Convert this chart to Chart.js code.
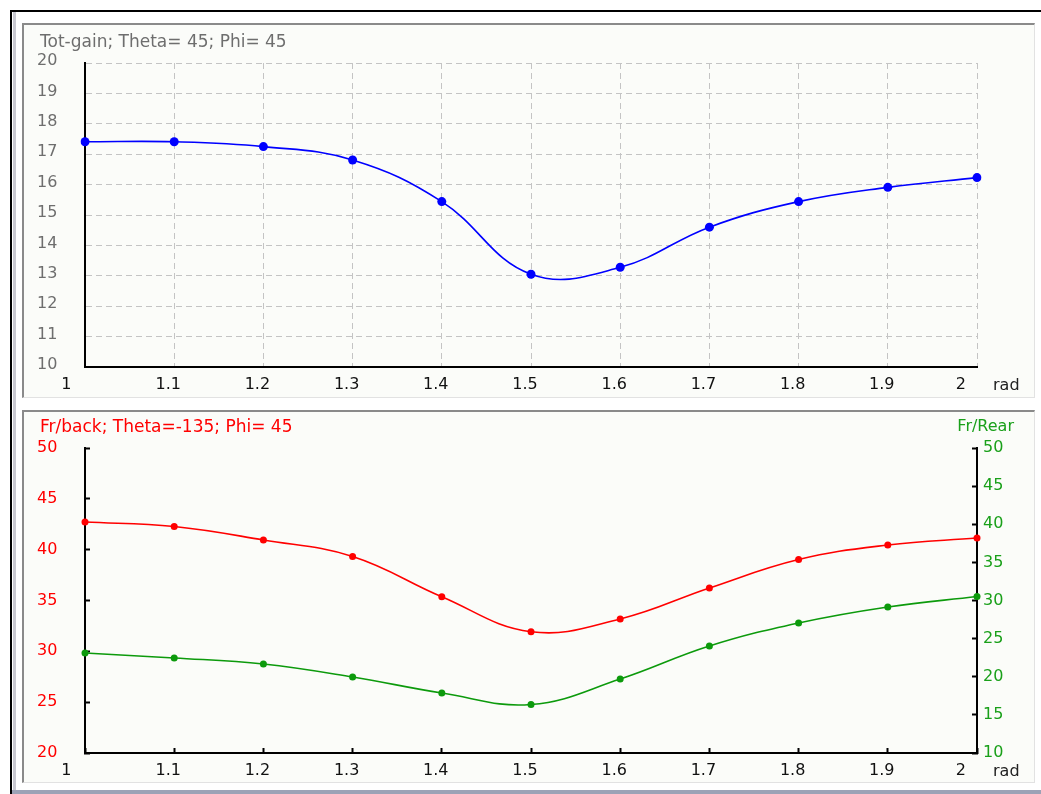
<!DOCTYPE html>
<html>
<head>
<meta charset="utf-8">
<script src="https://cdn.jsdelivr.net/npm/chart.js@4/dist/chart.umd.min.js"></script>
<style>
  html, body { margin: 0; padding: 0; background: #fff; width: 1041px; height: 794px; overflow: hidden;
               font-family: "DejaVu Sans", sans-serif; }
  .abs { position: absolute; }
  .frame { left: 10px; top: 10px; width: 1031px; height: 784px; box-sizing: border-box;
           border-top: 2px solid #000; border-left: 2px solid #000; background: #fff; }
  .bevel { left: 13px; top: 12px; width: 3px; height: 778px; background: #c8c8d0; }
  .foot { left: 12px; top: 790px; width: 1029px; height: 4px; background: #9ca2b6; }
  .panel { left: 22px; width: 1013px; box-sizing: border-box; background: #fbfcf9;
           border-top: 2px solid #8a8a8a; border-left: 2px solid #8a8a8a;
           border-right: 1px solid #e2e2e2; border-bottom: 1px solid #e2e2e2; }
  .txt { font-size: 16px; line-height: 20px; white-space: nowrap; }
  .head { font-size: 17px; line-height: 20px; white-space: nowrap; }
  canvas { position: absolute; }
</style>
</head>
<body>
<div class="abs frame"></div>
<div class="abs bevel"></div>
<div class="abs foot"></div>
<div class="abs panel" style="top:23px;height:375px"></div>
<div class="abs panel" style="top:410px;height:373px"></div>

<canvas id="gain" width="1010" height="372" style="left:24px;top:25px"></canvas>
<canvas id="ratio" width="1010" height="371" style="left:24px;top:412px"></canvas>

<div class="abs head" style="left:40px;top:31px;color:#6e6e6e">Tot-gain; Theta= 45; Phi= 45</div>
<div class="abs txt" style="left:993px;top:375px;color:#222">rad</div>
<div class="abs head" style="left:40px;top:416px;color:#ff0000">Fr/back; Theta=-135; Phi= 45</div>
<div class="abs txt" style="right:27px;top:416px;color:#1aa01a">Fr/Rear</div>
<div class="abs txt" style="left:993px;top:761px;color:#222">rad</div>

<script>
// Frequency sweep (rad) and the measured curves
const xLabels   = ['1', '1.1', '1.2', '1.3', '1.4', '1.5', '1.6', '1.7', '1.8', '1.9', '2'];
const totGain   = [17.41, 17.41, 17.25, 16.81, 15.44, 13.05, 13.28, 14.60, 15.44, 15.91, 16.23];
const frontBack = [42.72, 42.28, 40.95, 39.33, 35.37, 31.93, 33.18, 36.23, 39.03, 40.46, 41.15];
const frontRear = [23.11, 22.46, 21.67, 19.97, 17.87, 16.36, 19.70, 24.03, 27.05, 29.15, 30.52];

// Axis ranges
const gainRange  = { min: 10, max: 20, step: 1 };
const backRange  = { min: 20, max: 50, step: 5 };
const rearRange  = { min: 10, max: 50, step: 5 };

Chart.defaults.font.family = '"DejaVu Sans", sans-serif';
Chart.defaults.font.size = 16;

// end labels sit a little further left than the rest
function xTick(value, index, ticks) {
  const label = this.getLabelForValue(value);
  if (index === 0) return label + '     ';
  if (index === ticks.length - 1) return label + '    ';
  return label;
}

const common = {
  responsive: false,
  animation: false,
  events: [],
  plugins: { legend: { display: false }, tooltip: { enabled: false } }
};

// Total gain panel
new Chart(document.getElementById('gain'), {
  type: 'line',
  data: {
    labels: xLabels,
    datasets: [{
      data: totGain,
      borderColor: '#0000ff', backgroundColor: '#0000ff',
      borderWidth: 1.6, pointRadius: 4.5, pointBorderWidth: 0,
      tension: 0.4, fill: false
    }]
  },
  options: {
    ...common,
    layout: { padding: { left: 13, top: 38, right: 57, bottom: 0 } },
    scales: {
      x: {
        type: 'category', offset: false,
        grid: { color: '#c4c4c4', lineWidth: 1, drawTicks: false },
        border: { color: '#000', width: 2, dash: [6, 4] },
        ticks: { color: '#111', padding: 8, labelOffset: -6, autoSkip: false, maxRotation: 0, callback: xTick },
        afterFit(s) { s.height = 30; }
      },
      y: {
        min: gainRange.min, max: gainRange.max,
        grid: { color: '#c4c4c4', lineWidth: 1, drawTicks: false },
        border: { color: '#000', width: 2, dash: [6, 4] },
        ticks: { stepSize: gainRange.step, color: '#6e6e6e', crossAlign: 'far', labelOffset: -2 },
        afterFit(s) { s.width = 48; }
      }
    }
  }
});

// Front/back and front/rear ratio panel
const tickGrid = { drawOnChartArea: false, drawTicks: true, tickLength: -5, tickWidth: 2, tickColor: '#000' };

new Chart(document.getElementById('ratio'), {
  type: 'line',
  data: {
    labels: xLabels,
    datasets: [{
      data: frontBack, yAxisID: 'y',
      borderColor: '#ff0000', backgroundColor: '#ff0000',
      borderWidth: 1.6, pointRadius: 3.5, pointBorderWidth: 0,
      tension: 0.4, fill: false
    }, {
      data: frontRear, yAxisID: 'y2',
      borderColor: '#0c9a0c', backgroundColor: '#0c9a0c',
      borderWidth: 1.6, pointRadius: 3.5, pointBorderWidth: 0,
      tension: 0.4, fill: false
    }]
  },
  options: {
    ...common,
    layout: { padding: { left: 13, top: 36, right: 12, bottom: 0 } },
    scales: {
      x: {
        type: 'category', offset: false,
        grid: tickGrid,
        border: { color: '#000', width: 2 },
        ticks: { color: '#111', padding: 13, labelOffset: -6, autoSkip: false, maxRotation: 0, callback: xTick },
        afterFit(s) { s.height = 30; }
      },
      y: {
        position: 'left', min: backRange.min, max: backRange.max,
        grid: tickGrid,
        border: { color: '#000', width: 2 },
        ticks: { stepSize: backRange.step, color: '#ff0000', crossAlign: 'far' },
        afterFit(s) { s.width = 48; }
      },
      y2: {
        position: 'right', min: rearRange.min, max: rearRange.max,
        grid: tickGrid,
        border: { color: '#000', width: 2 },
        ticks: { stepSize: rearRange.step, color: '#1aa01a', padding: 11 },
        afterFit(s) { s.width = 45; }
      }
    }
  }
});
</script>
</body>
</html>
